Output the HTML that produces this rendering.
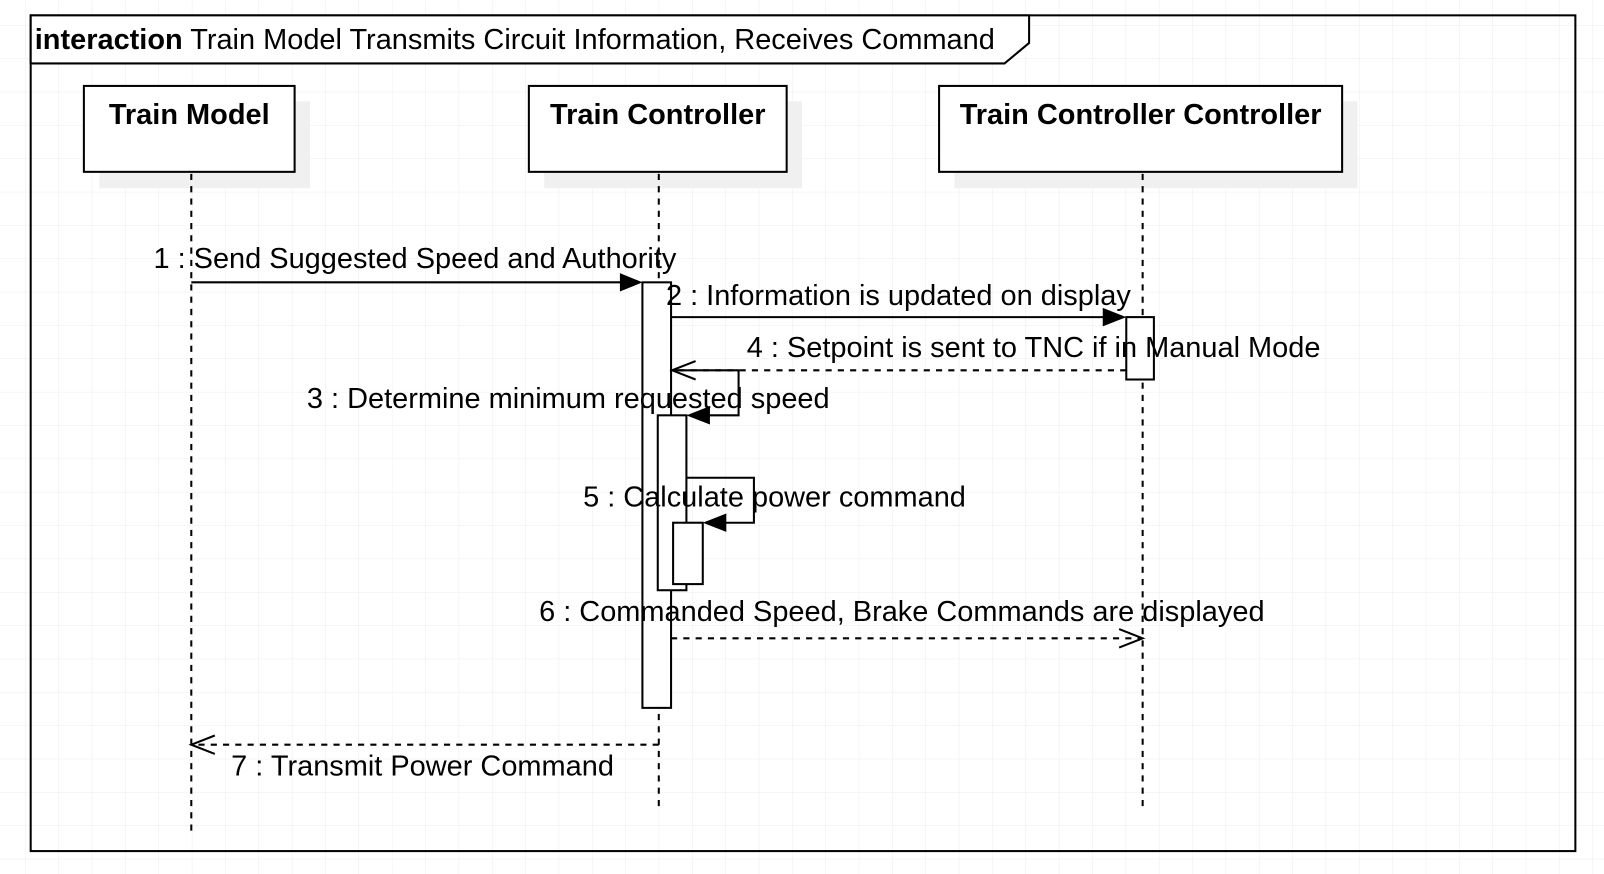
<!DOCTYPE html>
<html><head><meta charset="utf-8"><style>
html,body{margin:0;padding:0;background:#fff;}
svg{display:block;}
text{font-family:"Liberation Sans",Arial,sans-serif;font-size:28.3px;fill:#000;}
</style></head><body>
<svg width="1604" height="874" viewBox="0 0 1568 854.4" preserveAspectRatio="none" xmlns="http://www.w3.org/2000/svg">
<defs>
<pattern id="g" width="32.6" height="32.6" patternUnits="userSpaceOnUse" x="25" y="25">
<path d="M32.6 0V32.6M0 32.6H32.6" stroke="#ececec" stroke-width="1" fill="none"/>
</pattern>
</defs>
<rect width="1568" height="855" fill="url(#g)"/>
<rect x="30" y="15" width="1510" height="817" fill="none" stroke="#000" stroke-width="2"/>
<polygon points="30,15 1006,15 1006,42 982,62 30,62" fill="#fff" stroke="#000" stroke-width="2"/>
<text x="34" y="48"><tspan font-weight="bold">interaction</tspan> Train Model Transmits Circuit Information, Receives Command</text>

<rect x="97" y="99" width="206" height="85" fill="#f0f0f0"/>
<rect x="82" y="84" width="206" height="84" fill="#fff" stroke="#000" stroke-width="2"/>
<text x="185" y="121" text-anchor="middle" font-weight="bold">Train Model</text>
<rect x="532" y="99" width="252" height="85" fill="#f0f0f0"/>
<rect x="517" y="84" width="252" height="84" fill="#fff" stroke="#000" stroke-width="2"/>
<text x="643" y="121" text-anchor="middle" font-weight="bold">Train Controller</text>
<rect x="933" y="99" width="394" height="85" fill="#f0f0f0"/>
<rect x="918" y="84" width="394" height="84" fill="#fff" stroke="#000" stroke-width="2"/>
<text x="1115" y="121" text-anchor="middle" font-weight="bold">Train Controller Controller</text>

<g stroke="#000" stroke-width="2" stroke-dasharray="6,6">
<line x1="187" y1="170" x2="187" y2="815"/>
<line x1="644" y1="170" x2="644" y2="790"/>
<line x1="1117" y1="170" x2="1117" y2="790"/>
</g>

<rect x="628" y="276" width="28" height="416" fill="#fff" stroke="#000" stroke-width="2"/>
<rect x="1101" y="310" width="27" height="61" fill="#fff" stroke="#000" stroke-width="2"/>

<line x1="187" y1="276" x2="610" y2="276" stroke="#000" stroke-width="2"/>
<polygon points="606,267 628,276 606,285" fill="#000"/>
<text x="150" y="262">1 : Send Suggested Speed and Authority</text>

<line x1="656" y1="310" x2="1082" y2="310" stroke="#000" stroke-width="2"/>
<polygon points="1078,301 1101,310 1078,319" fill="#000"/>
<text x="651" y="298">2 : Information is updated on display</text>

<line x1="1101" y1="362" x2="658" y2="362" stroke="#000" stroke-width="2" stroke-dasharray="6,6"/>
<polyline points="680,353 657,362 680,371" fill="none" stroke="#000" stroke-width="2"/>
<text x="730" y="349">4 : Setpoint is sent to TNC if in Manual Mode</text>

<rect x="643" y="406" width="28" height="171" fill="#fff" stroke="#000" stroke-width="2"/>
<polyline points="656,362 722,362 722,406 690,406" fill="none" stroke="#000" stroke-width="2"/>
<polygon points="694,397 671,406 694,415" fill="#000"/>
<text x="300" y="399">3 : Determine minimum requested speed</text>

<rect x="658" y="511" width="29" height="60" fill="#fff" stroke="#000" stroke-width="2"/>
<polyline points="671,467 737,467 737,511 705,511" fill="none" stroke="#000" stroke-width="2"/>
<polygon points="710,502 687,511 710,520" fill="#000"/>
<text x="570" y="495">5 : Calculate power command</text>

<line x1="656" y1="624" x2="1115" y2="624" stroke="#000" stroke-width="2" stroke-dasharray="6,6"/>
<polyline points="1094,615 1117,624 1094,633" fill="none" stroke="#000" stroke-width="2"/>
<text x="527" y="607">6 : Commanded Speed, Brake Commands are displayed</text>

<line x1="644" y1="728" x2="189" y2="728" stroke="#000" stroke-width="2" stroke-dasharray="6,6"/>
<polyline points="210,719 187,728 210,737" fill="none" stroke="#000" stroke-width="2"/>
<text x="226" y="758">7 : Transmit Power Command</text>
</svg>
</body></html>
